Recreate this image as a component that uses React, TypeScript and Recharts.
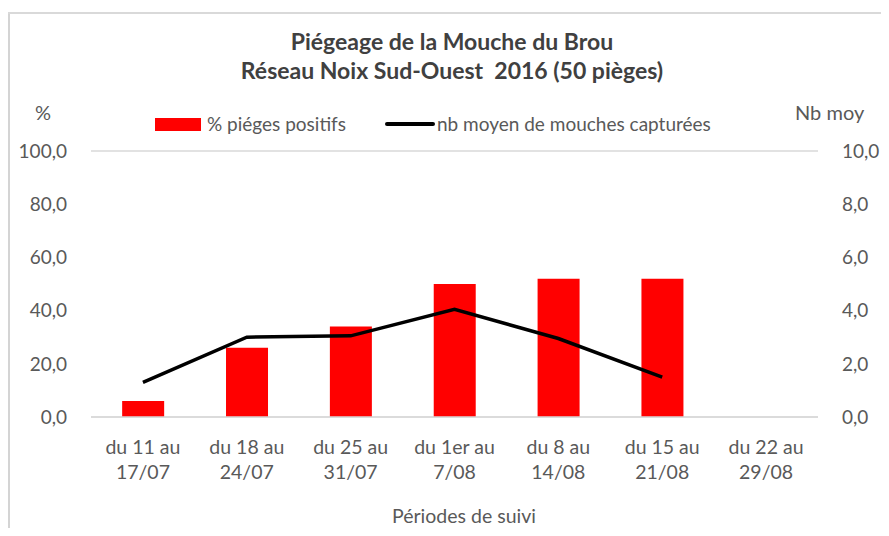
import { ComposedChart, Bar, Line, XAxis, YAxis, CartesianGrid, Legend } from 'recharts';

const periods = [
  'du 11 au|17/07',
  'du 18 au|24/07',
  'du 25 au|31/07',
  'du 1er au|7/08',
  'du 8 au|14/08',
  'du 15 au|21/08',
  'du 22 au|29/08',
];
const pctPositive = [6, 26, 34, 50, 52, 52, null];
const avgFlies = [1.3, 3.0, 3.05, 4.05, 2.95, 1.5, null];
const leftTicks = [0, 20, 40, 60, 80, 100];
const rightTicks = [0, 2, 4, 6, 8, 10];

const data = periods.map((p, i) => ({
  period: p,
  pct: pctPositive[i],
  nb: avgFlies[i],
}));

const FONT = 'Lato, "Open Sans", sans-serif';
const GREY = '#595959';
const fmt = (v: number) => v.toFixed(1).replace('.', ',');

const PeriodTick = (props: any) => {
  const { x, y, payload } = props;
  const lines = String(payload.value).split('|');
  return (
    <text x={x} y={y} textAnchor="middle" fill={GREY} fontSize={19.5} fontFamily={FONT}>
      {lines.map((l, i) => (
        <tspan key={i} x={x} dy={i === 0 ? 29 : 25}>{l}</tspan>
      ))}
    </text>
  );
};

const LegendBox = () => (
  <div style={{ position: 'relative', height: 24, fontFamily: FONT, fontSize: 19, color: GREY }}>
    <div style={{ position: 'absolute', left: 155, top: 6, width: 46, height: 13, background: '#ff0000' }} />
    <span style={{ position: 'absolute', left: 207, top: 0 }}>% piéges positifs</span>
    <div style={{ position: 'absolute', left: 385, top: 10, width: 50, height: 4, background: '#000', borderRadius: 2 }} />
    <span style={{ position: 'absolute', left: 437, top: 0 }}>nb moyen de mouches capturées</span>
  </div>
);

export default function App() {
  return (
    <div style={{ position: 'relative', width: 889, height: 536, margin: -8, background: '#fff', overflow: 'hidden' }}>
      <div style={{ position: 'absolute', left: 0, top: 0 }}>
        <ComposedChart width={889} height={536} data={data} margin={{ top: 151, right: 0, bottom: 39, left: 0 }} barCategoryGap="30%">
          <CartesianGrid vertical={false} stroke="#d9d9d9" strokeWidth={1.5} />
          <XAxis dataKey="period" height={80} tick={<PeriodTick />} tickLine={false} axisLine={{ stroke: '#d9d9d9', strokeWidth: 1.5 }} interval={0} />
          <YAxis yAxisId="left" width={91} domain={[0, 100]} ticks={leftTicks} tickFormatter={fmt} axisLine={false} tickLine={false} tick={{ fill: GREY, fontSize: 19, fontFamily: FONT }} tickMargin={18} />
          <YAxis yAxisId="right" orientation="right" width={71} domain={[0, 10]} ticks={rightTicks} tickFormatter={fmt} axisLine={false} tickLine={false} tick={{ fill: GREY, fontSize: 19, fontFamily: FONT }} tickMargin={18} />
          <Legend verticalAlign="middle" layout="horizontal" content={<LegendBox />} wrapperStyle={{ top: 112, left: 0, width: 889 }} />
          <Bar yAxisId="left" dataKey="pct" name="% piéges positifs" fill="#ff0000" isAnimationActive={false} />
          <Line yAxisId="right" dataKey="nb" name="nb moyen de mouches capturées" stroke="#000" strokeWidth={3.5} dot={false} type="linear" isAnimationActive={false} />
        </ComposedChart>
      </div>
      <div style={{ position: 'absolute', left: 0, top: 27, width: 904, textAlign: 'center', fontFamily: FONT, fontWeight: 'bold', fontSize: 23, color: '#404040', lineHeight: '29px' }}>
        Piégeage de la Mouche du Brou<br />Réseau Noix Sud-Ouest&nbsp; 2016 (50 pièges)
      </div>
      <div style={{ position: 'absolute', left: 35, top: 100, fontFamily: FONT, fontSize: 20, color: GREY }}>%</div>
      <div style={{ position: 'absolute', left: 795, top: 100, fontFamily: FONT, fontSize: 20, color: GREY }}>Nb moy</div>
      <div style={{ position: 'absolute', left: 0, top: 504, width: 928, textAlign: 'center', fontFamily: FONT, fontSize: 19.5, color: GREY }}>Périodes de suivi</div>
      <div style={{ position: 'absolute', left: 7, top: 12, width: 3, height: 524, background: '#d4d4d4' }} />
      <div style={{ position: 'absolute', left: 7, top: 12, width: 882, height: 2, background: '#d9d9d9' }} />
    </div>
  );
}
